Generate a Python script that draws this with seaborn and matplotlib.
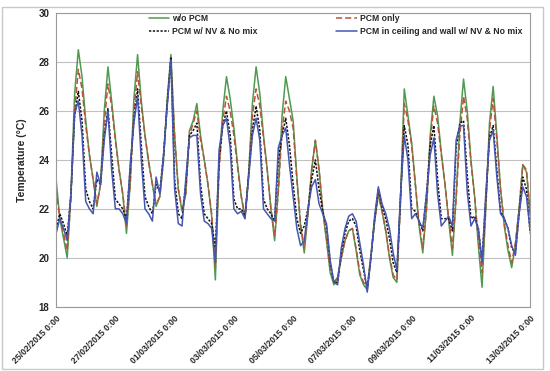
import matplotlib
matplotlib.use("Agg")
import matplotlib.pyplot as plt
from matplotlib.patches import Rectangle
import seaborn as sns
import pandas as pd
import numpy as np

# 3-hourly readings from 25/02/2015 0:00 to 13/03/2015 0:00 (8 per day)
wo_pcm = [
    23.2, 21.6, 20.8, 20.0, 22.6, 26.7, 28.5, 27.4,
    25.6, 24.2, 23.2, 22.1, 23.0, 26.0, 27.8, 26.4,
    24.9, 23.6, 22.6, 21.0, 23.0, 26.5, 28.3, 26.4,
    25.0, 23.9, 23.0, 22.1, 22.5, 24.0, 26.5, 28.3,
    25.0, 22.8, 21.9, 22.6, 25.2, 25.6, 26.3, 25.0,
    24.0, 23.0, 21.7, 19.1, 23.8, 26.0, 27.4, 26.5,
    25.3, 23.8, 22.5, 21.6, 23.5, 26.3, 27.8, 26.7,
    25.0, 23.6, 22.0, 20.7, 22.8, 25.8, 27.4, 26.5,
    25.6, 23.3, 21.3, 20.2, 21.8, 23.6, 24.8, 23.6,
    21.9, 20.7, 19.4, 18.9, 19.2, 20.0, 20.7, 21.1,
    21.2, 20.3, 19.3, 18.9, 18.7, 20.1, 21.5, 22.6,
    21.9, 21.1, 20.0, 19.2, 19.0, 22.5, 26.9, 25.8,
    24.7, 23.0, 21.3, 20.2, 22.0, 25.0, 26.6, 25.8,
    24.3, 23.0, 21.5, 20.1, 22.5, 25.5, 27.3, 26.0,
    24.0, 22.5, 20.5, 18.8, 22.0, 25.5, 27.0, 25.0,
    22.8, 21.3, 20.3, 19.6, 20.5, 22.0, 23.8, 23.5,
    21.8]
pcm_only = [
    22.8, 21.6, 21.0, 20.3, 22.4, 26.0, 27.7, 26.9,
    25.4, 24.2, 23.2, 22.2, 23.0, 25.5, 27.1, 26.2,
    24.8, 23.6, 22.6, 21.3, 23.0, 26.0, 27.6, 26.2,
    25.0, 23.9, 23.0, 22.2, 22.5, 24.0, 26.3, 28.0,
    25.0, 22.8, 22.0, 22.6, 25.0, 25.5, 26.0, 24.8,
    24.0, 23.0, 21.8, 19.6, 23.6, 25.6, 26.6, 26.0,
    25.0, 23.7, 22.5, 21.7, 23.4, 25.8, 26.9, 26.2,
    24.9, 23.6, 22.0, 20.9, 22.7, 25.2, 26.4, 26.0,
    25.3, 23.2, 21.4, 20.4, 21.8, 23.6, 24.8, 23.6,
    22.0, 20.8, 19.5, 19.0, 19.2, 20.0, 20.7, 21.1,
    21.2, 20.4, 19.4, 19.0, 18.8, 20.1, 21.5, 22.6,
    21.9, 21.1, 20.1, 19.3, 19.1, 22.3, 26.3, 25.6,
    24.6, 23.0, 21.4, 20.4, 22.0, 24.8, 26.2, 25.5,
    24.2, 23.0, 21.6, 20.4, 22.4, 25.0, 26.6, 25.7,
    23.9, 22.5, 20.7, 19.4, 22.0, 25.2, 26.5, 24.8,
    22.8, 21.4, 20.5, 19.8, 20.6, 22.0, 23.8, 23.6,
    21.8]
pcm_nv = [
    21.2, 21.8, 21.4, 20.9, 22.6, 25.8, 26.8, 25.6,
    22.8, 22.3, 22.0, 23.2, 23.0, 25.0, 26.1, 24.2,
    22.4, 22.2, 22.0, 21.6, 23.6, 25.6, 26.9, 24.6,
    22.5, 22.1, 21.8, 23.0, 22.7, 24.2, 26.3, 28.2,
    23.2, 21.8, 21.6, 23.0, 25.0, 25.2, 25.5, 23.0,
    21.8, 21.6, 21.4, 20.4, 24.0, 25.4, 26.0, 25.0,
    22.4, 22.0, 22.0, 21.7, 23.4, 25.2, 26.2, 25.2,
    22.4, 22.0, 21.8, 21.5, 24.0, 25.0, 25.7, 24.6,
    23.0, 21.6, 21.0, 21.3, 22.0, 23.2, 24.0, 22.8,
    21.9, 21.3, 19.8, 19.0, 19.0, 20.2, 21.0, 21.5,
    21.6, 21.3, 20.3, 19.5, 18.7, 20.0, 21.6, 22.8,
    22.1, 21.6, 20.8, 19.8, 19.4, 22.5, 25.4, 24.6,
    22.0, 21.9, 21.5, 21.1, 22.6, 24.6, 25.4, 23.2,
    21.6, 21.6, 21.6, 21.1, 24.5, 25.5, 25.6, 23.4,
    21.6, 21.7, 21.2, 19.9, 22.4, 24.9, 25.4, 23.6,
    21.9, 21.6, 21.2, 20.4, 20.2, 21.8, 23.3, 22.8,
    21.0]
pcm_ceiling_wall = [
    21.0, 21.6, 21.2, 20.7, 22.6, 25.9, 26.4, 25.0,
    22.3, 22.0, 21.8, 23.5, 23.0, 24.8, 26.0, 23.6,
    22.0, 22.0, 21.8, 21.4, 23.8, 25.5, 26.6, 24.0,
    22.0, 21.8, 21.5, 23.3, 22.6, 24.2, 26.2, 28.1,
    22.8, 21.4, 21.3, 23.2, 24.9, 25.0, 25.0, 22.6,
    21.5, 21.4, 21.2, 19.8, 24.4, 25.4, 25.7, 24.5,
    22.0, 21.8, 21.9, 21.6, 23.3, 25.0, 25.7, 24.8,
    22.0, 21.8, 21.6, 21.5, 24.5, 25.0, 25.3, 23.8,
    22.5, 21.2, 20.5, 20.7, 22.0, 22.9, 23.2, 22.2,
    21.8, 21.4, 19.9, 19.0, 18.9, 20.4, 21.2, 21.7,
    21.8, 21.5, 20.6, 19.7, 18.6, 20.0, 21.7, 22.9,
    22.2, 21.8, 21.2, 20.2, 19.5, 22.6, 25.0, 24.0,
    21.6, 21.8, 21.5, 21.2, 22.6, 24.2, 24.9, 22.6,
    21.3, 21.5, 21.7, 21.3, 24.8, 25.4, 25.4, 22.7,
    21.3, 21.6, 21.2, 19.8, 22.6, 24.8, 25.2, 23.3,
    21.8, 21.6, 21.2, 20.5, 20.1, 21.8, 22.9, 22.5,
    21.1]

times = pd.date_range("2015-02-25 00:00", "2015-03-13 00:00", freq="3h")
tick_dates = pd.date_range("2015-02-25", "2015-03-13", freq="2D")
tick_labels = ["25/02/2015 0:00", "27/02/2015 0:00", "01/03/2015 0:00",
               "03/03/2015 0:00", "05/03/2015 0:00", "07/03/2015 0:00",
               "09/03/2015 0:00", "11/03/2015 0:00", "13/03/2015 0:00"]

df = pd.DataFrame({"time": times,
                   "w/o PCM": wo_pcm,
                   "PCM only": pcm_only,
                   "PCM w/ NV & No mix": pcm_nv,
                   "PCM in ceiling and wall w/ NV & No mix": pcm_ceiling_wall})

sns.set_style("white")
plt.rcParams['font.family'] = ['Liberation Sans', 'DejaVu Sans']

fig = plt.figure(figsize=(5.5, 3.71), dpi=100)
ax = fig.add_axes([0.102, 0.173, 0.862, 0.792])

# outer chart border
fig.patches.append(Rectangle((0.004, 0.006), 0.984, 0.975, transform=fig.transFigure,
                             fill=False, edgecolor='#c8c8c8', linewidth=1.0))

sns.lineplot(data=df, x="time", y="w/o PCM", ax=ax, color='#4f9a50', linewidth=1.1,
             label="w/o PCM")
sns.lineplot(data=df, x="time", y="PCM only", ax=ax, color='#b5553a', linewidth=1.1,
             linestyle=(0, (4, 2)), label="PCM only")
sns.lineplot(data=df, x="time", y="PCM w/ NV & No mix", ax=ax, color='#111111',
             linewidth=1.1, linestyle=(0, (1.5, 1)), label="PCM w/ NV & No mix")
sns.lineplot(data=df, x="time", y="PCM in ceiling and wall w/ NV & No mix", ax=ax,
             color='#4656b0', linewidth=1.1,
             label="PCM in ceiling and wall w/ NV & No mix")

ax.set_ylim(18, 30)
ax.set_yticks([18, 20, 22, 24, 26, 28, 30])
ax.set_xlim(times[0], times[-1])
ax.set_xticks(tick_dates)
ax.set_xticklabels(tick_labels, rotation=45, ha='right', rotation_mode='anchor')
ax.grid(axis='y', color='#c0c0c0', linewidth=0.8)
for s in ax.spines.values():
    s.set_color('#9a9a9a')
    s.set_linewidth(0.8)
ax.tick_params(axis='both', length=3, color='#9a9a9a', pad=2)
ax.tick_params(axis='x', labelsize=6.3)
ax.tick_params(axis='y', labelsize=7)
for lab in ax.get_xticklabels() + ax.get_yticklabels():
    lab.set_fontweight('bold')
ax.set_xlabel("")
ax.set_ylabel("Temperature (°C)", fontsize=7.5, fontweight='bold', labelpad=8)

h, l = ax.get_legend_handles_labels()
order = [0, 2, 1, 3]
ax.legend([h[i] for i in order], [l[i] for i in order], ncol=2, frameon=False,
          loc='upper left', bbox_to_anchor=(0.195, 0.995), borderaxespad=0,
          borderpad=0, prop={'weight': 'bold', 'size': 6.2}, handlelength=2.4,
          handletextpad=0.3, columnspacing=9.2, labelspacing=0.45)

fig.savefig("out.png", dpi=100)
